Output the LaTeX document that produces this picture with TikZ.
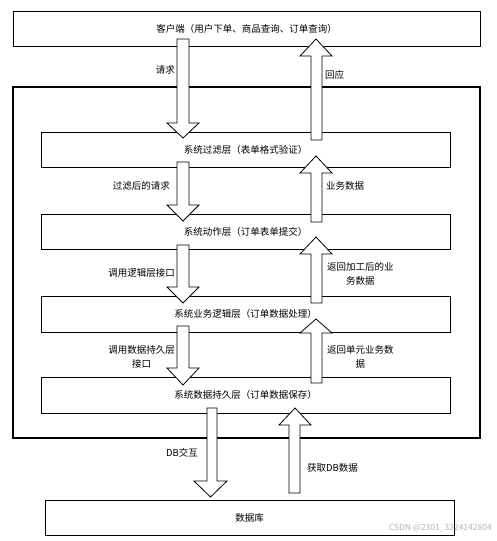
\documentclass[tikz,border=0pt]{standalone}
\usepackage{fontspec}
\setmainfont{Noto Sans CJK SC}
\definecolor{Mark}{HTML}{B4B4B4}

\begin{document}
\begin{tikzpicture}[x=1pt, y=-1pt,
  layer/.style={draw, line width=0.8, inner sep=0pt, minimum width=409, minimum height=34.5,
    font=\fontsize{9.5}{11}\selectfont},
  lbl/.style={inner sep=0pt, align=center, font=\fontsize{9.5}{13.5}\selectfont},
  blockarrow/.style={draw, fill=white, line width=0.8, line join=miter}]

 \useasboundingbox (0,0) rectangle (497,541);

 %%%%%%%%%% Boxes %%%%%%%%%%
 \node[layer, minimum width=467, minimum height=35] (client) at (246.5,28.5) {客户端（用户下单、商品查询、订单查询）};
 \draw [line width=2.5] (13,87) rectangle (480,438) ;
 \node[layer] (filter) at (245.5,150) {系统过滤层（表单格式验证）};
 \node[layer] (action) at (245.5,232) {系统动作层（订单表单提交）};
 \node[layer, minimum height=36] (logic) at (245.5,314) {系统业务逻辑层（订单数据处理）};
 \node[layer, minimum height=36] (persist) at (245.5,395) {系统数据持久层（订单数据保存）};
 \node[layer, minimum height=35] (db) at (249.5,517.5) {数据库};

 %%%%%%%%%% Down arrows %%%%%%%%%%
 \draw [blockarrow] (177,39) -- (177,123) -- (167,123) -- (183,138) -- (199,123) -- (189,123) -- (189,39) -- cycle ;
 \draw [blockarrow] (177,162) -- (177,205) -- (167,205) -- (183,221) -- (199,205) -- (189,205) -- (189,162) -- cycle ;
 \draw [blockarrow] (177,245) -- (177,287) -- (167,287) -- (183,303) -- (199,287) -- (189,287) -- (189,245) -- cycle ;
 \draw [blockarrow] (177,326) -- (177,368) -- (167,368) -- (183,385) -- (199,368) -- (189,368) -- (189,326) -- cycle ;
 \draw [blockarrow] (207,408) -- (207,481) -- (194,481) -- (210.5,497) -- (227,481) -- (217,481) -- (217,408) -- cycle ;

 %%%%%%%%%% Up arrows %%%%%%%%%%
 \draw [blockarrow] (311,140) -- (311,56) -- (300,56) -- (316,39) -- (332,56) -- (322,56) -- (322,140) -- cycle ;
 \draw [blockarrow] (311,222) -- (311,173) -- (300,173) -- (316,156) -- (332,173) -- (322,173) -- (322,222) -- cycle ;
 \draw [blockarrow] (311,303) -- (311,254) -- (300,254) -- (316,237) -- (332,254) -- (322,254) -- (322,303) -- cycle ;
 \draw [blockarrow] (311,383) -- (311,333) -- (300,333) -- (316,319) -- (332,333) -- (322,333) -- (322,383) -- cycle ;
 \draw [blockarrow] (289,493) -- (289,425) -- (279,425) -- (295,408) -- (311,425) -- (300,425) -- (300,493) -- cycle ;

 %%%%%%%%%% Labels %%%%%%%%%%
 \node[lbl, anchor=east] (req) at (175,70) {请求};
 \node[lbl, anchor=west] (resp) at (325,75) {回应};
 \node[lbl, anchor=east] (filtreq) at (170,186) {过滤后的请求};
 \node[lbl, anchor=west] (bizdata) at (326,186) {业务数据};
 \node[lbl, anchor=east] (calllogic) at (175,273) {调用逻辑层接口};
 \node[lbl, anchor=west] (retproc) at (327,274) {返回加工后的业\\务数据};
 \node[lbl, anchor=east] (callpersist) at (175,357) {调用数据持久层\\接口};
 \node[lbl, anchor=west] (retunit) at (327,357) {返回单元业务数\\据};
 \node[lbl, anchor=east] (dbio) at (198,453) {DB交互};
 \node[lbl, anchor=west] (dbget) at (307,468) {获取DB数据};

 \node[anchor=east, inner sep=0pt, text=Mark, font=\fontsize{8.5}{10}\selectfont] (mark) at (492,528) {CSDN @2301\_3224142804};

\end{tikzpicture}
\end{document}
